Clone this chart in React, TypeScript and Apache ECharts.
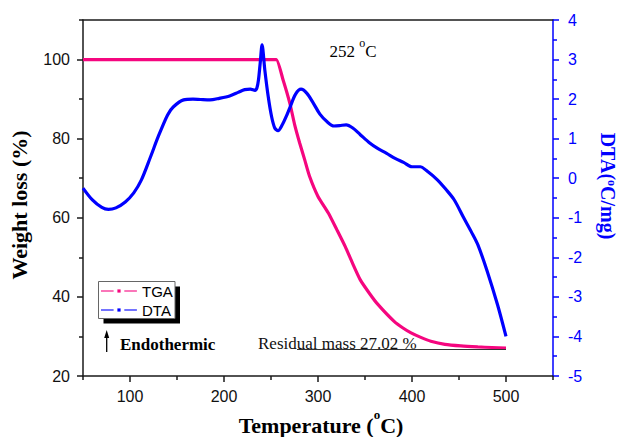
import React, { useEffect, useRef } from "react";
import * as echarts from "echarts";

// ---- Data ----
const tgaTemp = [50, 100, 150, 200, 250, 255.6, 262.8, 270, 275.2, 280.5, 285.8, 291, 300, 311, 320, 329, 336, 345, 355, 363, 381, 390, 399, 410, 420, 435, 452, 470, 485, 500];
const tgaWeight = [100, 100, 100, 100, 100, 100, 94.9, 89, 83.5, 78.9, 74.7, 70.5, 65.4, 61.2, 57, 52.7, 48.9, 44.3, 40.8, 38.3, 33.8, 32.2, 30.9, 29.7, 28.8, 28.0, 27.6, 27.35, 27.2, 27.05];

const dtaTemp = [50, 60, 70, 77, 85, 95, 104, 112, 122, 130, 140, 146, 157, 167, 175, 185, 195, 206, 215, 222, 228, 233, 235, 236.7, 238.5, 240.5, 243.4, 247, 250.6, 254, 257.5, 262, 266, 270, 276, 282, 288, 295, 302, 310, 317, 323, 330, 337, 345, 355, 363, 373, 382, 391, 400, 409, 415, 427, 436, 445, 455, 463, 470, 480, 491, 500];
const dtaValue = [-0.25, -0.55, -0.74, -0.79, -0.75, -0.6, -0.37, -0.05, 0.55, 1.05, 1.6, 1.8, 1.98, 2.0, 1.99, 1.98, 2.02, 2.08, 2.17, 2.24, 2.25, 2.22, 2.28, 2.49, 2.91, 3.37, 2.74, 2.07, 1.56, 1.27, 1.2, 1.35, 1.55, 1.78, 2.12, 2.25, 2.15, 1.9, 1.62, 1.42, 1.32, 1.33, 1.35, 1.27, 1.1, 0.89, 0.76, 0.63, 0.5, 0.4, 0.29, 0.29, 0.2, -0.04, -0.28, -0.55, -1.0, -1.35, -1.68, -2.35, -3.2, -4.0];

const xMajorTicks = [100, 200, 300, 400, 500];
const xMinorTicks = [50, 150, 250, 350, 450, 550];
const leftMajorTicks = [20, 40, 60, 80, 100];
const leftMinorTicks = [30, 50, 70, 90, 110];

const PINK = "#f5067f";
const BLUE = "#0000ff";
const AXIS = "#1a1a1a";
const SERIF = "'Liberation Serif', 'Times New Roman', serif";
const SANS = "'Liberation Sans', Arial, sans-serif";

export default function App() {
  const ref = useRef<HTMLDivElement>(null);

  useEffect(() => {
    if (!ref.current) return;
    const chart = echarts.init(ref.current, null, { renderer: "svg" });

    const option: any = {
      animation: false,
      backgroundColor: "#ffffff",
      grid: { left: 83, right: 69, top: 20, bottom: 61, containLabel: false, outerBoundsMode: "none" },
      legend: {
        orient: "vertical",
        left: 100,
        top: 283,
        padding: 0,
        itemGap: 3,
        itemWidth: 36,
        itemHeight: 4,
        data: ["TGA", "DTA"],
        textStyle: { fontSize: 15, fontFamily: SANS, color: "#000", lineHeight: 16 },
        lineStyle: { width: 2, type: [12.6, 10.7], opacity: 0.55 },
        selectedMode: false,
      },
      xAxis: [
        {
          type: "value",
          min: 50,
          max: 550,
          position: "bottom",
          axisLine: { show: true, onZero: false, lineStyle: { color: AXIS, width: 1.5 } },
          axisTick: { show: true, length: 6, inside: false, customValues: xMajorTicks, lineStyle: { color: AXIS, width: 1.5 } },
          axisLabel: { show: true, customValues: xMajorTicks, color: "#111", fontSize: 16, fontFamily: SANS, margin: 12 },
          splitLine: { show: false },
        },
        {
          type: "value",
          min: 50,
          max: 550,
          position: "bottom",
          axisLine: { show: false, onZero: false },
          axisTick: { show: true, length: 4, customValues: xMinorTicks, lineStyle: { color: AXIS, width: 1.5 } },
          axisLabel: { show: false },
          splitLine: { show: false },
        },
        {
          type: "value",
          min: 50,
          max: 550,
          position: "top",
          axisLine: { show: true, onZero: false, lineStyle: { color: AXIS, width: 1.5 } },
          axisTick: { show: false },
          axisLabel: { show: false },
          splitLine: { show: false },
        },
      ],
      yAxis: [
        {
          type: "value",
          min: 20,
          max: 110,
          position: "left",
          axisLine: { show: true, onZero: false, lineStyle: { color: AXIS, width: 1.5 } },
          axisTick: { show: true, length: 6, customValues: leftMajorTicks, lineStyle: { color: AXIS, width: 1.5 } },
          axisLabel: { show: true, customValues: leftMajorTicks, color: "#111", fontSize: 16, fontFamily: SANS, margin: 13 },
          splitLine: { show: false },
        },
        {
          type: "value",
          min: -5,
          max: 4,
          interval: 1,
          position: "right",
          axisLine: { show: true, onZero: false, lineStyle: { color: BLUE, width: 1.5 } },
          axisTick: { show: true, length: 6, lineStyle: { color: BLUE, width: 1.5 } },
          minorTick: { show: true, splitNumber: 2, length: 4, lineStyle: { color: BLUE, width: 1.5 } },
          axisLabel: { show: true, color: BLUE, fontSize: 16, fontFamily: SANS, margin: 15 },
          splitLine: { show: false },
          minorSplitLine: { show: false },
        },
        {
          type: "value",
          min: 20,
          max: 110,
          position: "left",
          axisLine: { show: false, onZero: false },
          axisTick: { show: true, length: 4, customValues: leftMinorTicks, lineStyle: { color: AXIS, width: 1.5 } },
          axisLabel: { show: false },
          splitLine: { show: false },
        },
      ],
      series: [
        {
          name: "TGA",
          type: "line",
          xAxisIndex: 0,
          yAxisIndex: 0,
          data: tgaTemp.map((t, i) => [t, tgaWeight[i]]),
          symbol: "rect",
          showSymbol: false,
          smooth: 0.2,
          lineStyle: { color: PINK, width: 3.2 },
          itemStyle: { color: PINK },
          z: 3,
        },
        {
          name: "DTA",
          type: "line",
          xAxisIndex: 0,
          yAxisIndex: 1,
          data: dtaTemp.map((t, i) => [t, dtaValue[i]]),
          symbol: "rect",
          showSymbol: false,
          smooth: 0.3,
          lineStyle: { color: BLUE, width: 3.2 },
          itemStyle: { color: BLUE },
          z: 4,
        },
      ],
      graphic: [
        { type: "rect", z: 0, shape: { x: 103.5, y: 286.5, width: 76.5, height: 37 }, style: { fill: "#000" } },
        { type: "rect", z: 1, shape: { x: 98.5, y: 281.5, width: 76.5, height: 37 }, style: { fill: "#fff", stroke: "#666", lineWidth: 1 } },
        {
          type: "text", z: 5, x: 321, y: 425,
          style: {
            text: "Temperature ({s|o}C)", fontFamily: SERIF, fontSize: 22, fontWeight: "bold", fill: "#000",
            align: "center", verticalAlign: "middle", lineHeight: 34,
            rich: { s: { fontFamily: SERIF, fontSize: 13, lineHeight: 13, fontWeight: "bold", fill: "#000", verticalAlign: "top" } },
          },
        },
        {
          type: "text", z: 5, x: 19, y: 205, rotation: Math.PI / 2,
          style: { text: "Weight loss (%)", fontFamily: SERIF, fontSize: 22, fontWeight: "bold", fill: "#000", align: "center", verticalAlign: "middle" },
        },
        {
          type: "text", z: 5, x: 608, y: 186, rotation: -Math.PI / 2,
          style: {
            text: "DTA({s|o}C/mg)", fontFamily: SERIF, fontSize: 20, fontWeight: "bold", fill: BLUE,
            align: "center", verticalAlign: "middle", lineHeight: 20,
            rich: { s: { fontFamily: SERIF, fontSize: 12, lineHeight: 8, fontWeight: "bold", fill: BLUE, verticalAlign: "top" } },
          },
        },
        {
          type: "text", z: 5, x: 353, y: 51,
          style: {
            text: "252 {s|o}C", fontFamily: SERIF, fontSize: 17, fill: "#000", align: "center", verticalAlign: "middle", lineHeight: 28,
            rich: { s: { fontFamily: SERIF, fontSize: 12, lineHeight: 12, fill: "#000", verticalAlign: "top" } },
          },
        },
        {
          type: "text", z: 5, x: 120, y: 344,
          style: { text: "Endothermic", fontFamily: SERIF, fontSize: 17, fontWeight: "bold", fill: "#000", align: "left", verticalAlign: "middle" },
        },
        {
          type: "text", z: 5, x: 258, y: 343,
          style: { text: "Residual mass 27.02 %", fontFamily: SERIF, fontSize: 17, fill: "#111", align: "left", verticalAlign: "middle" },
        },
        { type: "line", z: 5, shape: { x1: 297, y1: 349.5, x2: 506, y2: 349.5 }, style: { stroke: "#333", lineWidth: 1 } },
        { type: "line", z: 5, shape: { x1: 106.7, y1: 336, x2: 106.7, y2: 352 }, style: { stroke: "#000", lineWidth: 1.3 } },
        { type: "polygon", z: 5, shape: { points: [[106.7, 330], [104.2, 338], [109.2, 338]] }, style: { fill: "#000" } },
      ],
    };

    chart.setOption(option);
    return () => {
      chart.dispose();
    };
  }, []);

  return (
    <div
      ref={ref}
      style={{ position: "fixed", left: 0, top: 0, width: 622, height: 437, background: "#fff" }}
    />
  );
}
